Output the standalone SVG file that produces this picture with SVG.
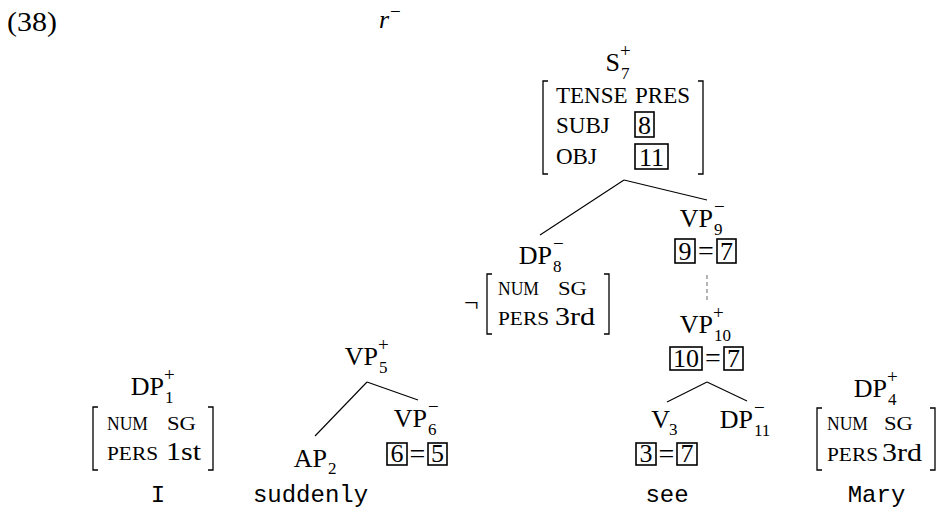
<svg xmlns="http://www.w3.org/2000/svg" width="940" height="509" viewBox="0 0 940 509">
<style>
text{font-family:"Liberation Serif","Times New Roman",serif;fill:#000}
.lb{font-size:26px}
.lbe{font-size:26px;text-anchor:end}
.ss{font-size:17px}
.sp{font-size:19px}
.sc{font-size:18px}
.big{font-size:23px}
.dg{font-size:26px;text-anchor:middle}
.eq{font-size:28px;text-anchor:middle}
.tt{font-family:"Liberation Mono","Courier New",monospace;font-size:24px;text-anchor:middle}
.it{font-style:italic}
.br{fill:none;stroke:#000;stroke-width:1.3}
.bx{fill:none;stroke:#000;stroke-width:1.6}
.ln{stroke:#000;stroke-width:1.1;fill:none}
.ds{stroke:#777;stroke-width:1.1;stroke-dasharray:4,3;fill:none}
</style>
<g id="header">
<text class="lb" x="7" y="31" style="font-size:28px" textLength="50" lengthAdjust="spacingAndGlyphs">(38)</text>
<text class="lb it" x="379" y="28">r</text>
<text class="sp" x="390" y="18">−</text>
</g>
<g id="connectors">
<line class="ln" x1="624" y1="180" x2="540" y2="235"/>
<line class="ln" x1="624" y1="180" x2="707" y2="200"/>
<line class="ds" x1="707" y1="275" x2="707" y2="301"/>
<line class="ln" x1="367" y1="382" x2="315" y2="436"/>
<line class="ln" x1="367" y1="382" x2="418" y2="400"/>
<line class="ln" x1="707" y1="382" x2="667" y2="402"/>
<line class="ln" x1="707" y1="382" x2="747" y2="401"/>
</g>
<g id="n-S7">
<text class="lbe" x="620" y="71">S</text>
<text class="sp" x="620" y="57">+</text>
<text class="ss" x="621" y="79">7</text>
<path class="br" d="M548 81H543V174H548"/>
<path class="br" d="M698 81H703V174H698"/>
<text class="big" x="556" y="103">TENSE</text>
<text class="big" x="635" y="103">PRES</text>
<text class="big" x="556" y="133">SUBJ</text>
<rect class="bx" x="635" y="112" width="19" height="25"/>
<text class="dg" x="644.5" y="134">8</text>
<text class="big" x="556" y="164">OBJ</text>
<rect class="bx" x="635" y="144" width="33" height="25"/>
<text class="dg" x="651.5" y="166">11</text>
</g>
<g id="n-DP8">
<text class="lbe" x="552" y="264">DP</text>
<text class="sp" x="553" y="250">−</text>
<text class="ss" x="553" y="272">8</text>
<text class="lb" x="464" y="311">¬</text>
<path class="br" d="M492 274H487V334H492"/>
<path class="br" d="M604 274H609V334H604"/>
<text class="sc" x="498" y="295" textLength="41" lengthAdjust="spacingAndGlyphs">NUM</text>
<text class="sc" x="558" y="295" textLength="29" lengthAdjust="spacingAndGlyphs">SG</text>
<text class="sc" x="498" y="325" textLength="51" lengthAdjust="spacingAndGlyphs">PERS</text>
<text class="lb" x="555" y="325" textLength="40" lengthAdjust="spacingAndGlyphs">3rd</text>
</g>
<g id="n-VP9">
<text class="lbe" x="713" y="227">VP</text>
<text class="sp" x="714" y="213">−</text>
<text class="ss" x="714" y="235">9</text>
<rect class="bx" x="675" y="239" width="20" height="24"/>
<text class="dg" x="685" y="260">9</text>
<text class="eq" x="706" y="260">=</text>
<rect class="bx" x="717" y="239" width="19" height="24"/>
<text class="dg" x="726.5" y="260">7</text>
</g>
<g id="n-VP10">
<text class="lbe" x="713" y="333">VP</text>
<text class="sp" x="713" y="319">+</text>
<text class="ss" x="714" y="341">10</text>
<rect class="bx" x="670" y="347" width="32" height="23"/>
<text class="dg" x="686" y="367">10</text>
<text class="eq" x="713" y="367">=</text>
<rect class="bx" x="724" y="347" width="19" height="23"/>
<text class="dg" x="733.5" y="367">7</text>
</g>
<g id="n-DP1">
<text class="lbe" x="164" y="395">DP</text>
<text class="sp" x="164" y="381">+</text>
<text class="ss" x="165" y="403">1</text>
<path class="br" d="M98 407H93V470H98"/>
<path class="br" d="M208 407H213V470H208"/>
<text class="sc" x="107" y="430" textLength="41" lengthAdjust="spacingAndGlyphs">NUM</text>
<text class="sc" x="167" y="430" textLength="29" lengthAdjust="spacingAndGlyphs">SG</text>
<text class="sc" x="107" y="460" textLength="51" lengthAdjust="spacingAndGlyphs">PERS</text>
<text class="lb" x="166" y="460" textLength="35" lengthAdjust="spacingAndGlyphs">1st</text>
</g>
<g id="n-VP5">
<text class="lbe" x="378" y="365">VP</text>
<text class="sp" x="378" y="351">+</text>
<text class="ss" x="379" y="373">5</text>
</g>
<g id="n-AP2">
<text class="lbe" x="327" y="467">AP</text>
<text class="ss" x="328" y="474">2</text>
</g>
<g id="n-VP6">
<text class="lbe" x="427" y="427">VP</text>
<text class="sp" x="428" y="413">−</text>
<text class="ss" x="428" y="435">6</text>
<rect class="bx" x="387" y="443" width="20" height="22"/>
<text class="dg" x="397" y="462">6</text>
<text class="eq" x="417.5" y="463">=</text>
<rect class="bx" x="428" y="443" width="19" height="22"/>
<text class="dg" x="437.5" y="462">5</text>
</g>
<g id="n-V3">
<text class="lbe" x="670" y="428">V</text>
<text class="ss" x="669" y="435">3</text>
<rect class="bx" x="636" y="443" width="20" height="22"/>
<text class="dg" x="646" y="462">3</text>
<text class="eq" x="666.5" y="463">=</text>
<rect class="bx" x="677" y="443" width="20" height="22"/>
<text class="dg" x="687" y="462">7</text>
</g>
<g id="n-DP11">
<text class="lbe" x="753" y="428">DP</text>
<text class="sp" x="754" y="414">−</text>
<text class="ss" x="754" y="436">11</text>
</g>
<g id="n-DP4">
<text class="lbe" x="887" y="397">DP</text>
<text class="sp" x="887" y="383">+</text>
<text class="ss" x="888" y="405">4</text>
<path class="br" d="M822 408H817V470H822"/>
<path class="br" d="M930 408H935V470H930"/>
<text class="sc" x="827" y="430" textLength="41" lengthAdjust="spacingAndGlyphs">NUM</text>
<text class="sc" x="884" y="430" textLength="29" lengthAdjust="spacingAndGlyphs">SG</text>
<text class="sc" x="827" y="461" textLength="51" lengthAdjust="spacingAndGlyphs">PERS</text>
<text class="lb" x="882" y="461" textLength="40" lengthAdjust="spacingAndGlyphs">3rd</text>
</g>
<g id="words">
<text class="tt" x="158" y="502">I</text>
<text class="tt" x="310.5" y="502">suddenly</text>
<text class="tt" x="667" y="502">see</text>
<text class="tt" x="876.5" y="502">Mary</text>
</g>
</svg>
